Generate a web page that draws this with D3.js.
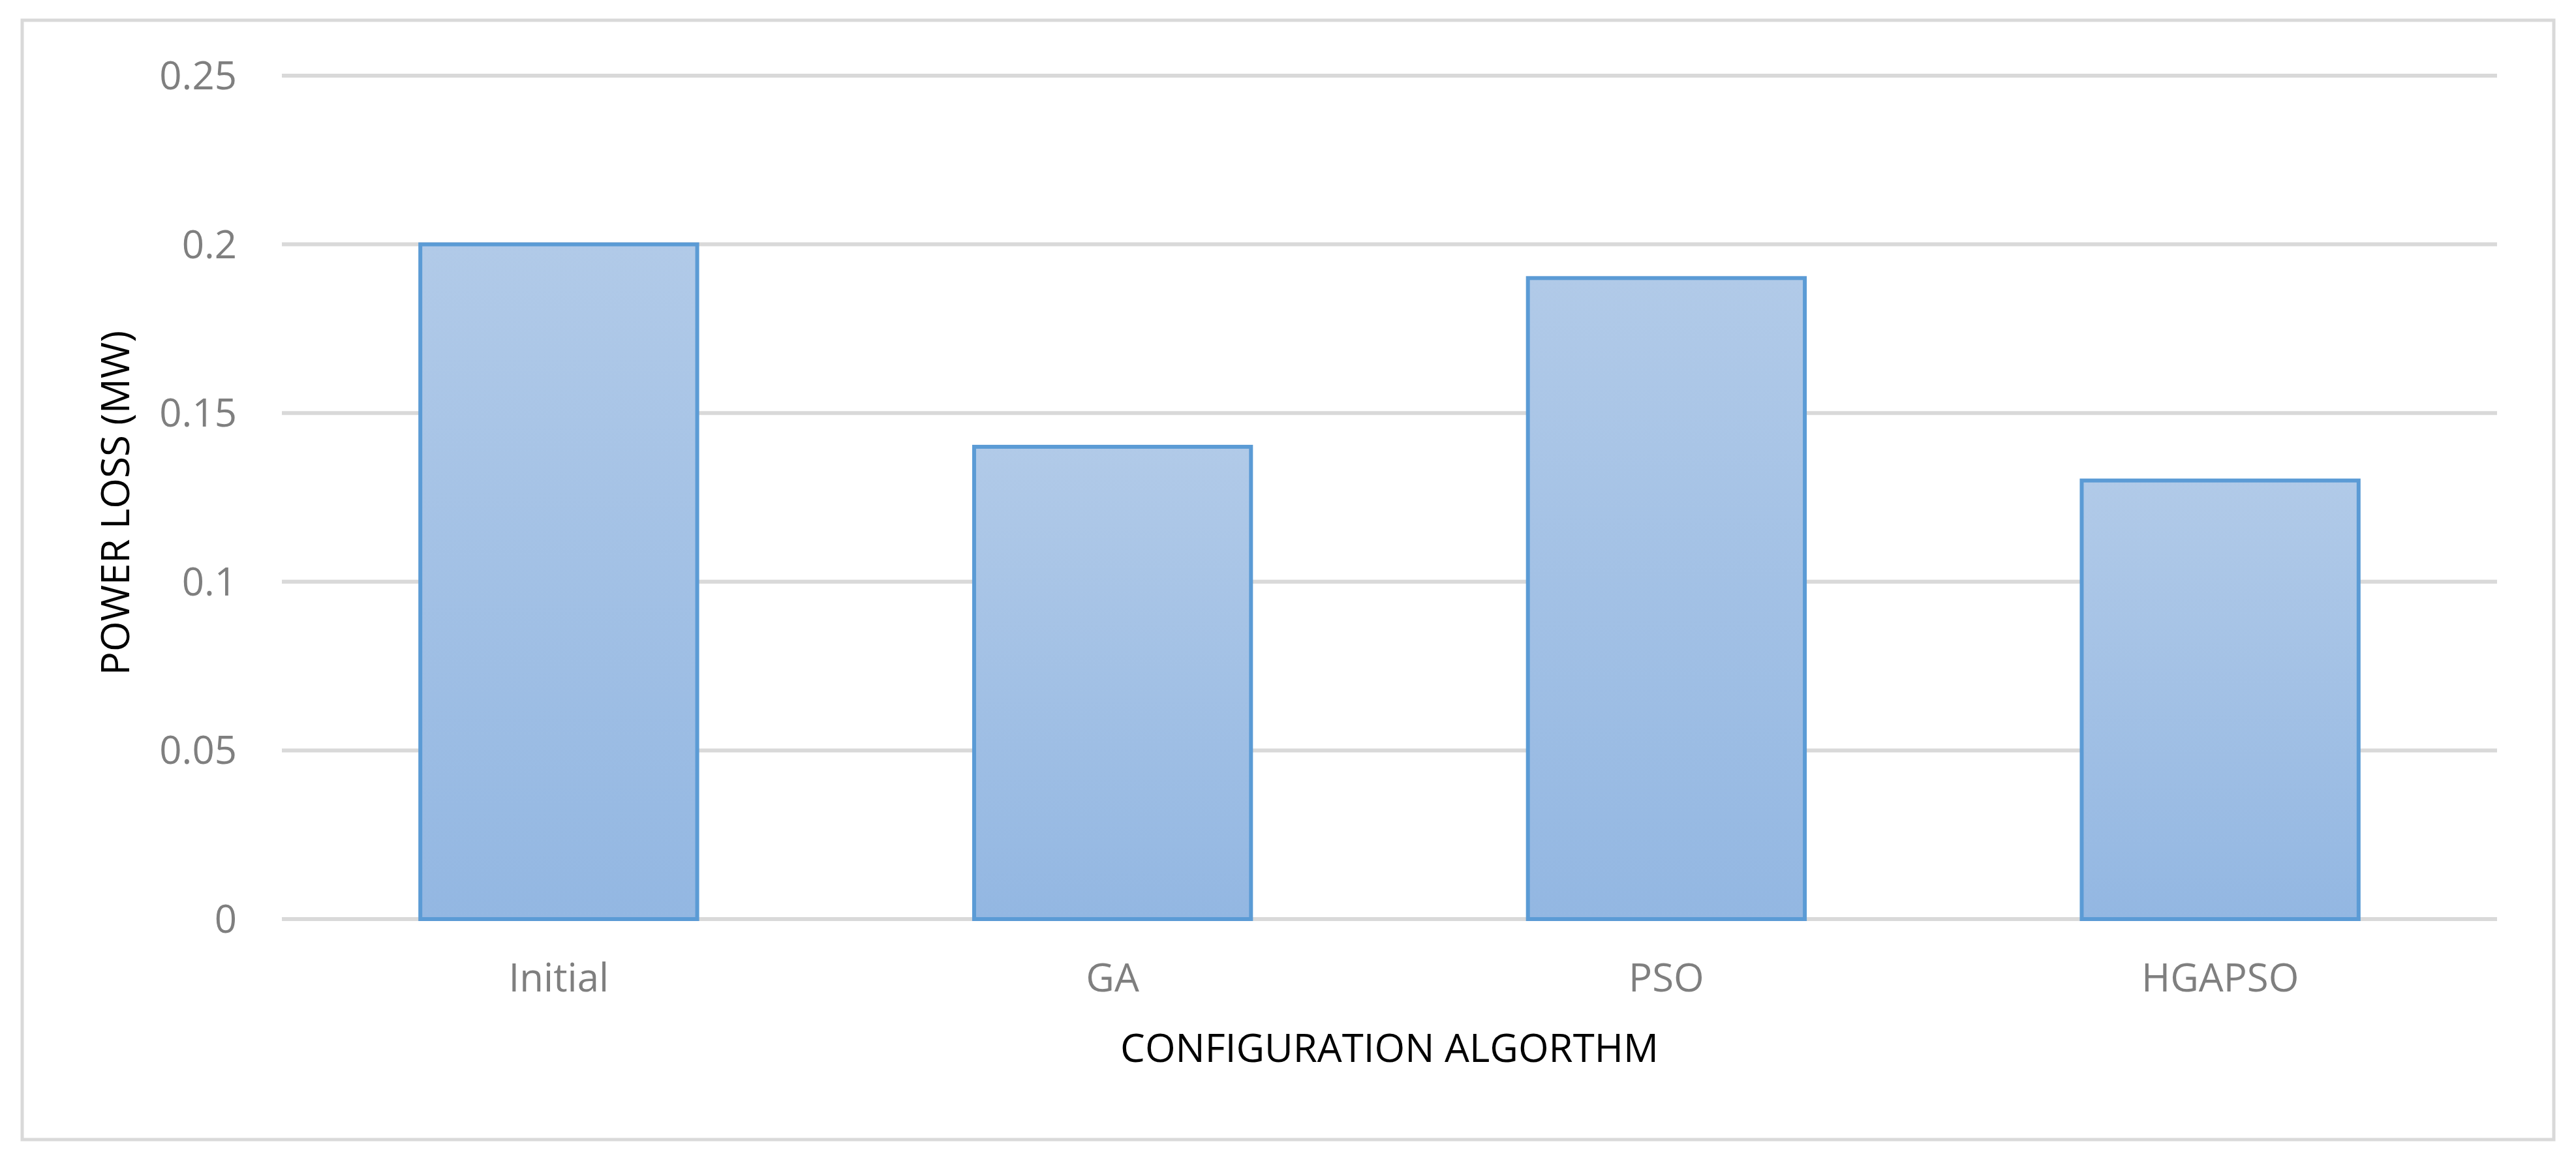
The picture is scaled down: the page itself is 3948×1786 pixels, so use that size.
<!DOCTYPE html>
<html><head><meta charset="utf-8">
<script src="https://cdn.jsdelivr.net/npm/d3@7"></script>
<style>body{margin:0;background:#fff}</style></head>
<body><svg id="c" width="3948" height="1786"></svg>
<script>
const categories = ["Initial","GA","PSO","HGAPSO"];
const values = [0.2,0.14,0.19,0.13];
const yTicks = [0,0.05,0.1,0.15,0.2,0.25];
const yTickLabels = ["0","0.05","0.1","0.15","0.2","0.25"];

const svg = d3.select("#c");
const font = "'Liberation Sans Narrow','Open Sans',sans-serif";
svg.append("rect").attr("x",34).attr("y",31).attr("width",3880).attr("height",1716)
  .attr("fill","#fff").attr("stroke","#d9d9d9").attr("stroke-width",5);

const L=432,R=3827,T=116,B=1409;
const x = d3.scaleBand().domain(categories).range([L,R]).paddingInner(0.5).paddingOuter(0.25);
const y = d3.scaleLinear().domain([0,0.25]).range([B,T]);

const defs = svg.append("defs");
const g = defs.append("linearGradient").attr("id","gr").attr("x1",0).attr("y1",0).attr("x2",0).attr("y2",1);
g.append("stop").attr("offset","0%").attr("stop-color","#b1cae8");
g.append("stop").attr("offset","100%").attr("stop-color","#93b7e2");

svg.append("g").selectAll("line").data(yTicks).join("line")
  .attr("x1",L).attr("x2",R).attr("y1",d=>y(d)).attr("y2",d=>y(d))
  .attr("stroke","#d9d9d9").attr("stroke-width",6);

svg.append("g").selectAll("text").data(yTicks).join("text")
  .attr("x",363).attr("y",d=>y(d)).attr("dy","0.35em").attr("text-anchor","end")
  .attr("font-family",font).attr("font-size",60).attr("fill","#7f7f7f")
  .text((d,i)=>yTickLabels[i]);

svg.append("g").selectAll("rect").data(values).join("rect")
  .attr("x",(d,i)=>x(categories[i])).attr("width",x.bandwidth())
  .attr("y",d=>y(d)).attr("height",d=>y(0)-y(d))
  .attr("fill","url(#gr)").attr("stroke","#5b9bd5").attr("stroke-width",6);

svg.append("g").selectAll("text").data(categories).join("text")
  .attr("x",d=>x(d)+x.bandwidth()/2).attr("y",1520).attr("text-anchor","middle")
  .attr("font-family",font).attr("font-size",60).attr("fill","#7f7f7f").text(d=>d);

svg.append("text").attr("x",(L+R)/2).attr("y",1628).attr("text-anchor","middle")
  .attr("font-family",font).attr("font-size",60).attr("fill","#000").text("CONFIGURATION ALGORTHM");
svg.append("text").attr("transform","translate(198,771) rotate(-90)").attr("text-anchor","middle")
  .attr("font-family",font).attr("font-size",60).attr("fill","#000").text("POWER LOSS (MW)");
</script></body></html>
